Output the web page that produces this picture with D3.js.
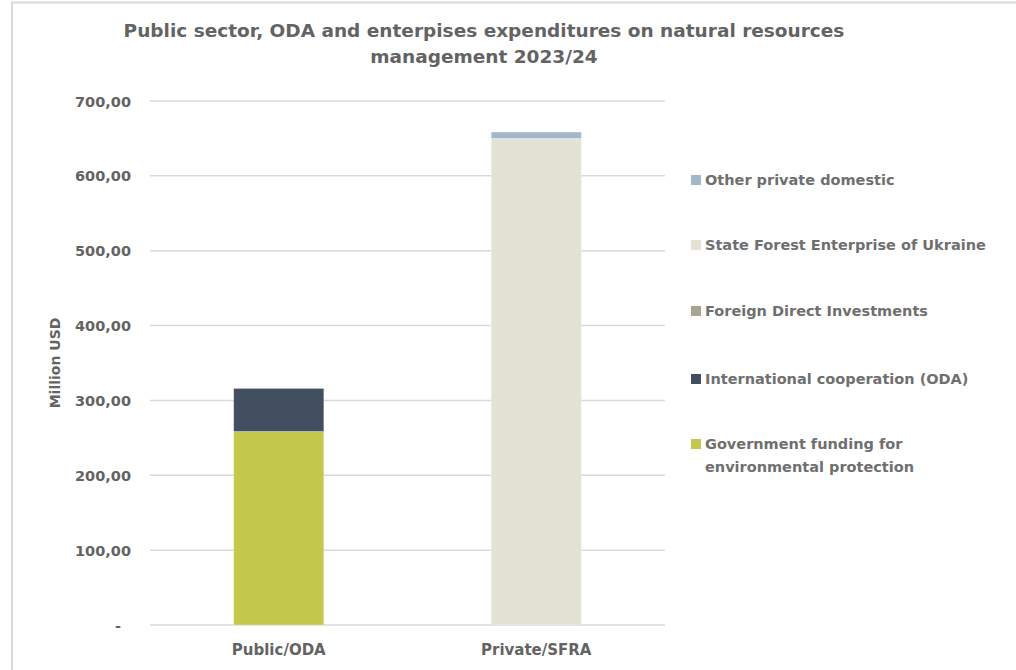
<!DOCTYPE html>
<html>
<head>
<meta charset="utf-8">
<script src="https://cdn.jsdelivr.net/npm/d3@7/dist/d3.min.js"></script>
<style>
  html, body { margin: 0; padding: 0; background: #fff; }
  svg { display: block; }
  text { font-family: "DejaVu Sans", "Noto Sans", sans-serif; }
</style>
</head>
<body>
<svg id="chart" width="1016" height="670"></svg>
<script>
// Expenditures on natural resources management 2023/24, million USD
const categories = ["Public/ODA", "Private/SFRA"];
const seriesNames = [
  "Government funding for environmental protection",
  "International cooperation (ODA)",
  "Foreign Direct Investments",
  "State Forest Enterprise of Ukraine",
  "Other private domestic"
];
const governmentFunding   = [258.5, 0];
const internationalCoop   = [57.5, 0];
const foreignDirectInvest = [0, 0];
const stateForestEnterp   = [0, 650];
const otherPrivateDomestic = [0, 8.5];
const yTicks = [0, 100, 200, 300, 400, 500, 600, 700];
const seriesColors = ["#c3c94c", "#424f61", "#a6a58f", "#e4e1d5", "#a2b7cb"];

const seriesValues = [governmentFunding, internationalCoop, foreignDirectInvest, stateForestEnterp, otherPrivateDomestic];

const svg = d3.select("#chart");
const W = 1016, H = 670;

// outer chart frame
svg.append("rect")
  .attr("x", 12).attr("y", 2.5)
  .attr("width", W - 12 + 10).attr("height", H + 10)
  .attr("fill", "#fff").attr("stroke", "#d9d9d9").attr("stroke-width", 2);

const plot = { left: 150, right: 665, top: 101, bottom: 625 };

const x = d3.scaleBand()
  .domain(categories)
  .range([plot.left, plot.right])
  .paddingInner(0.65)
  .paddingOuter(0.325);

const y = d3.scaleLinear().domain([0, 700]).range([plot.bottom, plot.top]);

// gridlines
svg.append("g")
  .selectAll("line")
  .data(yTicks)
  .join("line")
  .attr("x1", plot.left).attr("x2", plot.right)
  .attr("y1", d => y(d)).attr("y2", d => y(d))
  .attr("stroke", "#d9d9d9").attr("stroke-width", 1.5);

// y axis tick labels
const fmt = d => d === 0 ? "-" : d3.format(".2f")(d).replace(".", ",");
const yAxis = d3.axisLeft(y).tickValues(yTicks).tickFormat(fmt).tickSize(0).tickPadding(0);
const gy = svg.append("g").attr("transform", `translate(131,0)`).call(yAxis);
gy.select(".domain").remove();
gy.selectAll("text")
  .attr("fill", "#636363")
  .style("font-size", "14.5px")
  .style("font-weight", "bold")
  .attr("dy", "0.35em");
gy.selectAll(".tick").filter(d => d === 0).select("text").attr("x", -10);

// y axis title
svg.append("text")
  .attr("transform", `translate(60,${(plot.top + plot.bottom) / 2}) rotate(-90)`)
  .attr("text-anchor", "middle")
  .attr("fill", "#636363")
  .style("font-size", "14px")
  .style("font-weight", "bold")
  .text("Million USD");

// stacked bars
const rows = categories.map((c, i) => {
  const r = { category: c };
  seriesNames.forEach((s, k) => { r[s] = seriesValues[k][i]; });
  return r;
});
const stacked = d3.stack().keys(seriesNames)(rows);

svg.append("g")
  .selectAll("g")
  .data(stacked)
  .join("g")
  .attr("fill", (d, i) => seriesColors[i])
  .selectAll("rect")
  .data(d => d.filter(p => p[1] - p[0] > 0))
  .join("rect")
  .attr("x", d => x(d.data.category))
  .attr("width", x.bandwidth())
  .attr("y", d => y(d[1]))
  .attr("height", d => y(d[0]) - y(d[1]))
  .attr("stroke", "#ffffff")
  .attr("stroke-opacity", 0.35)
  .attr("stroke-width", 0.8);

// x axis labels
const xAxis = d3.axisBottom(x).tickSize(0).tickPadding(0);
const gx = svg.append("g").attr("transform", `translate(0,${plot.bottom + 30})`).call(xAxis);
gx.select(".domain").remove();
gx.selectAll("text")
  .attr("fill", "#636363")
  .attr("dy", 0)
  .style("font-size", "15px")
  .style("font-weight", "bold");

// title
const title = svg.append("text")
  .attr("text-anchor", "middle")
  .attr("fill", "#636363")
  .style("font-size", "18.5px")
  .style("font-weight", "bold");
title.append("tspan").attr("x", 484).attr("y", 37)
  .text("Public sector, ODA and enterpises expenditures on natural resources");
title.append("tspan").attr("x", 484).attr("y", 63)
  .text("management 2023/24");

// legend (top item is the last series)
const legendY = [180, 245, 311, 379, 444];
const legendItems = seriesNames.map((s, i) => ({ name: s, color: seriesColors[i] })).reverse();
const lg = svg.append("g")
  .selectAll("g")
  .data(legendItems)
  .join("g")
  .attr("transform", (d, i) => `translate(691,${legendY[i]})`);
lg.append("rect")
  .attr("x", 0).attr("y", -5)
  .attr("width", 10).attr("height", 10)
  .attr("fill", d => d.color);
lg.each(function(d) {
  const t = d3.select(this).append("text")
    .attr("fill", "#6f6f6f")
    .style("font-size", "14.5px")
    .style("font-weight", "bold");
  if (d.name === "Government funding for environmental protection") {
    t.append("tspan").attr("x", 14).attr("y", 0).attr("dy", "0.35em").text("Government funding for");
    t.append("tspan").attr("x", 14).attr("y", 23).attr("dy", "0.35em").text("environmental protection");
  } else {
    t.attr("x", 14).attr("dy", "0.35em").text(d.name);
  }
});
</script>
</body>
</html>
